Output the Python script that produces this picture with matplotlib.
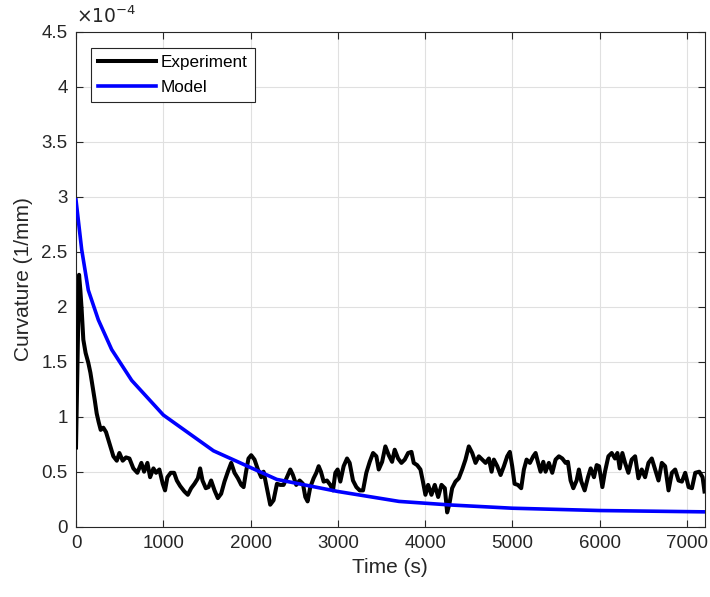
import matplotlib
matplotlib.use("Agg")
import matplotlib.pyplot as plt
from matplotlib.ticker import FuncFormatter

plt.rcParams['font.family'] = ['Liberation Sans', 'DejaVu Sans']

# Experiment (time in s, curvature in 1e-4 1/mm)
exp_t = [0, 35, 50, 65, 84, 110, 141, 165, 191, 215, 237, 260, 283, 313, 344, 382, 428, 467, 497, 535,
         573, 612, 657, 703, 749, 780, 818, 849, 887, 917, 955, 994, 1020, 1047, 1085, 1124, 1155, 1193,
         1242, 1281, 1319, 1357, 1396, 1422, 1449, 1487, 1518, 1548, 1587, 1625, 1663, 1701, 1740, 1778,
         1816, 1855, 1893, 1920, 1946, 1976, 2007, 2045, 2084, 2122, 2149, 2187, 2225, 2263, 2302, 2340,
         2378, 2417, 2455, 2485, 2523, 2562, 2600, 2627, 2653, 2684, 2722, 2753, 2780, 2806, 2837, 2875,
         2913, 2944, 2971, 2997, 3028, 3066, 3105, 3135, 3173, 3212, 3250, 3288, 3326, 3365, 3403, 3441,
         3468, 3507, 3544, 3583, 3621, 3651, 3690, 3728, 3766, 3805, 3843, 3869, 3908, 3946, 3972, 4003,
         4034, 4072, 4110, 4149, 4187, 4225, 4252, 4278, 4309, 4347, 4385, 4424, 4462, 4500, 4539, 4577,
         4615, 4654, 4692, 4730, 4761, 4787, 4826, 4864, 4902, 4940, 4970, 4997, 5024, 5062, 5100, 5131,
         5162, 5200, 5238, 5265, 5291, 5322, 5353, 5379, 5417, 5456, 5494, 5532, 5571, 5609, 5635, 5666,
         5697, 5735, 5761, 5789, 5827, 5865, 5896, 5934, 5965, 5992, 6030, 6060, 6099, 6137, 6175, 6202,
         6229, 6259, 6290, 6328, 6366, 6405, 6443, 6481, 6519, 6558, 6596, 6634, 6673, 6711, 6749, 6788,
         6826, 6864, 6903, 6941, 6979, 7018, 7056, 7094, 7140, 7178, 7200]
exp_v = [0.72, 2.29, 2.15, 1.97, 1.70, 1.58, 1.49, 1.40, 1.27, 1.15, 1.03, 0.95, 0.88, 0.90, 0.86, 0.76,
         0.64, 0.60, 0.67, 0.60, 0.63, 0.62, 0.53, 0.49, 0.58, 0.50, 0.58, 0.45, 0.53, 0.49, 0.52, 0.39,
         0.33, 0.45, 0.49, 0.49, 0.42, 0.37, 0.32, 0.29, 0.35, 0.39, 0.44, 0.53, 0.42, 0.35, 0.36, 0.42,
         0.33, 0.26, 0.30, 0.41, 0.50, 0.58, 0.49, 0.44, 0.38, 0.36, 0.49, 0.62, 0.65, 0.61, 0.52, 0.45,
         0.50, 0.35, 0.20, 0.24, 0.39, 0.38, 0.38, 0.45, 0.52, 0.47, 0.38, 0.42, 0.39, 0.27, 0.23, 0.36,
         0.44, 0.49, 0.55, 0.50, 0.41, 0.42, 0.38, 0.33, 0.49, 0.52, 0.41, 0.55, 0.62, 0.58, 0.42, 0.36,
         0.33, 0.33, 0.49, 0.59, 0.67, 0.64, 0.52, 0.59, 0.73, 0.65, 0.59, 0.70, 0.62, 0.58, 0.61, 0.67,
         0.68, 0.58, 0.56, 0.52, 0.42, 0.29, 0.38, 0.29, 0.38, 0.27, 0.38, 0.35, 0.13, 0.21, 0.35, 0.41,
         0.44, 0.52, 0.61, 0.73, 0.67, 0.58, 0.64, 0.61, 0.58, 0.62, 0.50, 0.61, 0.55, 0.47, 0.55, 0.64,
         0.68, 0.55, 0.39, 0.38, 0.35, 0.52, 0.61, 0.58, 0.64, 0.67, 0.59, 0.50, 0.59, 0.50, 0.58, 0.49,
         0.61, 0.64, 0.62, 0.58, 0.59, 0.42, 0.35, 0.42, 0.52, 0.41, 0.33, 0.45, 0.53, 0.45, 0.56, 0.55,
         0.36, 0.50, 0.64, 0.67, 0.62, 0.67, 0.53, 0.67, 0.58, 0.49, 0.61, 0.64, 0.44, 0.52, 0.45, 0.58,
         0.62, 0.52, 0.42, 0.58, 0.55, 0.33, 0.49, 0.52, 0.42, 0.41, 0.49, 0.36, 0.35, 0.49, 0.50, 0.45,
         0.32]

# Model
model_t = [0, 65, 141, 256, 409, 638, 1001, 1575, 2300, 3000, 3700, 4300, 5000, 6000, 7200]
model_v = [2.97, 2.52, 2.15, 1.88, 1.61, 1.33, 1.015, 0.69, 0.43, 0.32, 0.23, 0.197, 0.168, 0.147, 0.135]

scale = 1e-4
yticks = [0, 0.5, 1, 1.5, 2, 2.5, 3, 3.5, 4, 4.5]
xticks = [0, 1000, 2000, 3000, 4000, 5000, 6000, 7000]

W, H = 710, 597
fig = plt.figure(figsize=(W / 100, H / 100), dpi=100)
ax = fig.add_axes([76 / W, 1 - 526.7 / H, 628.5 / W, (526.7 - 31.7) / H])

ax.plot(exp_t, [v * scale for v in exp_v], color='black', lw=2.9, label='Experiment',
        solid_joinstyle='round', zorder=3)
ax.plot(model_t, [v * scale for v in model_v], color=(0, 0, 1), lw=2.6, label='Model', zorder=3)

ax.set_xlim(0, 7200)
ax.set_ylim(0, 4.5e-4)
ax.set_xticks(xticks)
ax.set_yticks([v * scale for v in yticks])
ax.yaxis.set_major_formatter(FuncFormatter(lambda v, p: '%g' % round(v / scale, 3)))
ax.xaxis.set_major_formatter(FuncFormatter(lambda v, p: '%d' % v))

axc = '#262626'
ax.grid(True, color='#e0e0e0', lw=0.8, zorder=0)
ax.set_axisbelow(True)
for s in ax.spines.values():
    s.set_color(axc)
    s.set_linewidth(0.8)
ax.tick_params(direction='in', length=5, width=0.8, color=axc, labelcolor=axc,
               labelsize=13.5, top=True, right=True, pad=6)

ax.set_xlabel('Time (s)', fontsize=15, color=axc, labelpad=4)
ax.set_ylabel('Curvature (1/mm)', fontsize=15, color=axc, labelpad=6)

ax.text(0.0, 1.01, r'$\times10^{-4}$', transform=ax.transAxes, fontsize=13.5, color=axc,
        ha='left', va='bottom', math_fontfamily='dejavusans')

leg = ax.legend(loc='upper left', bbox_to_anchor=(15 / 628.5, 1 - 16 / 495), borderaxespad=0,
                fontsize=12.3, handlelength=3.4, handletextpad=0.3, labelspacing=0.6,
                borderpad=0.4, fancybox=False, framealpha=1, edgecolor=axc)
leg.get_frame().set_linewidth(0.8)

fig.savefig('out.png', dpi=100)
